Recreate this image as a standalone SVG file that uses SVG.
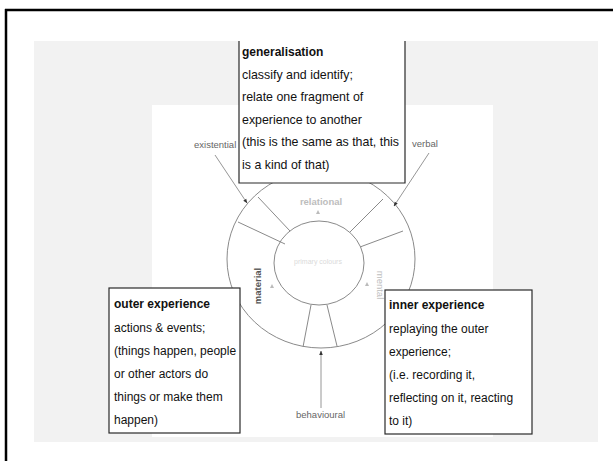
<svg xmlns="http://www.w3.org/2000/svg" width="613" height="461" viewBox="0 0 613 461">
<defs>
<style>
.box{fill:#fff;stroke:#2a2a2a;stroke-width:1.2}
.t{font-family:"Liberation Sans",Arial,sans-serif;font-size:12px;fill:#111}
.h{font-family:"Liberation Sans",Arial,sans-serif;font-size:12px;font-weight:bold;fill:#111}
.lab{font-family:"Liberation Sans",Arial,sans-serif;font-size:9.5px;fill:#666}
.wl{fill:none;stroke:#8a8a8a;stroke-width:1}
.con{fill:none;stroke:#8a8a8a;stroke-width:0.9}
.mk{fill:#bbb}
</style>
<marker id="ah" viewBox="0 0 10 10" refX="9" refY="5" markerWidth="5" markerHeight="5" orient="auto">
<path d="M0,1 L10,5 L0,9 z" fill="#333"/>
</marker>
</defs>

<rect x="0" y="0" width="613" height="461" fill="#fff"/>
<line x1="5" y1="10" x2="613" y2="10" stroke="#000" stroke-width="2.5"/>
<line x1="6" y1="9" x2="6" y2="461" stroke="#000" stroke-width="2.5"/>

<rect x="34" y="41" width="564" height="401" fill="#f2f2f2"/>
<rect x="152" y="105" width="341" height="332" fill="#fff"/>

<g id="wheel">
<ellipse class="wl" cx="321" cy="259" rx="94" ry="89"/>
<ellipse class="wl" cx="319" cy="263" rx="45" ry="42"/>
<line class="wl" x1="290" y1="231" x2="258" y2="197"/>
<line class="wl" x1="285" y1="244" x2="238" y2="222"/>
<line class="wl" x1="350" y1="232" x2="383" y2="199"/>
<line class="wl" x1="360" y1="247" x2="403" y2="231"/>
<line class="wl" x1="311" y1="305" x2="303" y2="347"/>
<line class="wl" x1="327" y1="305" x2="337" y2="346"/>
<text x="321" y="205" text-anchor="middle" style="font-family:'Liberation Sans',Arial,sans-serif;font-size:9.5px;font-weight:bold;fill:#bdbdbd">relational</text>
<text x="318" y="264" text-anchor="middle" style="font-family:'Liberation Sans',Arial,sans-serif;font-size:7px;fill:#dadada">primary colours</text>
<text transform="translate(261,286) rotate(-90)" text-anchor="middle" style="font-family:'Liberation Sans',Arial,sans-serif;font-size:9.5px;font-weight:bold;fill:#555">material</text>
<text transform="translate(377,285) rotate(90)" text-anchor="middle" style="font-family:'Liberation Sans',Arial,sans-serif;font-size:9.5px;fill:#bdbdbd">mental</text>
<polygon class="mk" points="318,210 320,214 316,214"/>
<polygon class="mk" points="272,284 274,288 270,288"/>
<polygon class="mk" points="367,282 369,286 365,286"/>
</g>

<g id="connectors">
<line class="con" x1="215" y1="155" x2="247" y2="203" marker-end="url(#ah)"/>
<line class="con" x1="429" y1="153" x2="394" y2="206" marker-end="url(#ah)"/>
<line class="con" x1="321" y1="408" x2="321" y2="351" marker-end="url(#ah)"/>
</g>

<g id="existential">
<text class="lab" x="194" y="148">existential</text>
</g>
<g id="verbal">
<text class="lab" x="412" y="147">verbal</text>
</g>
<g id="behavioural">
<text class="lab" x="296" y="418">behavioural</text>
</g>

<g id="generalisation">
<path d="M239,41 V183 H405 V41" fill="#fff"/>
<path d="M239,41 V183 H405 V41" fill="none" stroke="#2a2a2a" stroke-width="1.2"/>
<text class="h" x="242" y="56">generalisation</text>
<text class="t" x="242" y="78.6" style="font-size:12.4px">classify and identify;</text>
<text class="t" x="242" y="101.2" style="font-size:12.4px">relate one fragment of</text>
<text class="t" x="242" y="123.8" style="font-size:12.4px">experience to another</text>
<text class="t" x="242" y="146.4" style="font-size:12.4px">(this is the same as that, this</text>
<text class="t" x="242" y="169" style="font-size:12.4px">is a kind of that)</text>
</g>

<g id="outer-experience">
<rect class="box" x="109" y="288" width="131" height="145"/>
<text class="h" x="114" y="308">outer experience</text>
<text class="t" x="114" y="331.5">actions &amp; events;</text>
<text class="t" x="114" y="354.5">(things happen, people</text>
<text class="t" x="114" y="377.5">or other actors do</text>
<text class="t" x="114" y="400.5">things or make them</text>
<text class="t" x="114" y="424">happen)</text>
</g>

<g id="inner-experience">
<rect class="box" x="385" y="290" width="147" height="144"/>
<text class="h" x="389" y="309">inner experience</text>
<text class="t" x="389" y="332.5">replaying the outer</text>
<text class="t" x="389" y="355.5">experience;</text>
<text class="t" x="389" y="378.5">(i.e. recording it,</text>
<text class="t" x="389" y="401.5">reflecting on it, reacting</text>
<text class="t" x="389" y="424.5">to it)</text>
</g>
</svg>
